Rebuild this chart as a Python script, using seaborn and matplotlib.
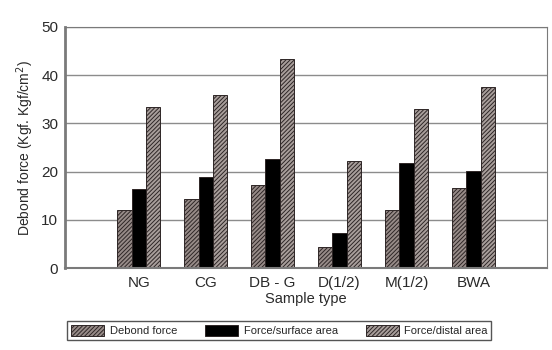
import numpy as np
import pandas as pd
import matplotlib
matplotlib.use("Agg")
import matplotlib.pyplot as plt
import seaborn as sns

sns.set_style("white")
plt.rcParams['font.family'] = ['Liberation Sans', 'DejaVu Sans']
plt.rcParams['hatch.linewidth'] = 0.7

# values
samples = ["NG", "CG", "DB - G", "D(1/2)", "M(1/2)", "BWA"]
debond_force = [12.0, 14.4, 17.2, 4.3, 12.0, 16.7]
force_surface = [16.5, 18.9, 22.7, 7.2, 21.8, 20.2]
force_distal = [33.4, 35.8, 43.3, 22.2, 33.0, 37.5]
series = ["Debond force", "Force/surface area", "Force/distal area"]
y_ticks = [0, 10, 20, 30, 40, 50]

df = pd.DataFrame({
    "Sample type": samples * 3,
    "value": debond_force + force_surface + force_distal,
    "series": np.repeat(series, len(samples)),
})

face = {"Debond force": "#978b88", "Force/surface area": "#000000",
        "Force/distal area": "#a89e9b"}
hatch = {"Debond force": "////////", "Force/surface area": None,
         "Force/distal area": "////////"}

fig = plt.figure(figsize=(5.52, 3.5), dpi=100)
ax = fig.add_axes([0.118, 0.234, 0.873, 0.689])

sns.barplot(data=df, x="Sample type", y="value", hue="series",
            palette=face, width=0.64, saturation=1, ax=ax, legend=False)

# hatch the grey bars, one container per series
for cont, name in zip(ax.containers, series):
    for p in cont:
        p.set_edgecolor("#2e2626")
        p.set_linewidth(0.7)
        if hatch[name]:
            p.set_hatch(hatch[name])

ax.set_xlim(-1.1, 6.1)
ax.set_ylim(0, 50)
ax.set_yticks(y_ticks)
ax.yaxis.grid(True, color="#8c8c8c", linewidth=1.0)
ax.set_axisbelow(True)
for s in ["top", "right", "left", "bottom"]:
    ax.spines[s].set_visible(True)
    ax.spines[s].set_color("#7a7a7a")
ax.spines["left"].set_linewidth(2.0)
ax.spines["bottom"].set_linewidth(1.5)
ax.tick_params(axis="y", length=3, width=1, color="#555555", labelsize=11,
               pad=2)
ax.tick_params(axis="x", length=0, labelsize=11, pad=6)
for lab in ax.get_yticklabels() + ax.get_xticklabels():
    lab.set_color("#2a2a2a")

ax.set_ylabel("Debond force (Kgf. Kgf/cm$^2$)", fontsize=10, color="#2a2a2a",
              labelpad=4)
ax.set_xlabel("Sample type", fontsize=10.5, color="#2a2a2a", labelpad=1)

handles = [matplotlib.patches.Patch(facecolor=face[n], edgecolor="#2e2626",
                                    hatch=hatch[n], linewidth=0.7, label=n)
           for n in series]
fig.legend(handles=handles, loc="lower left", ncol=3, mode="expand",
           bbox_to_anchor=(0.112, 0.014, 0.788, 0.063), fancybox=False,
           edgecolor="#555555", fontsize=8, handlelength=3.0,
           handleheight=1.2, borderpad=0.3, handletextpad=0.5,
           columnspacing=1.0, framealpha=1)

fig.savefig("out.png", dpi=100)
